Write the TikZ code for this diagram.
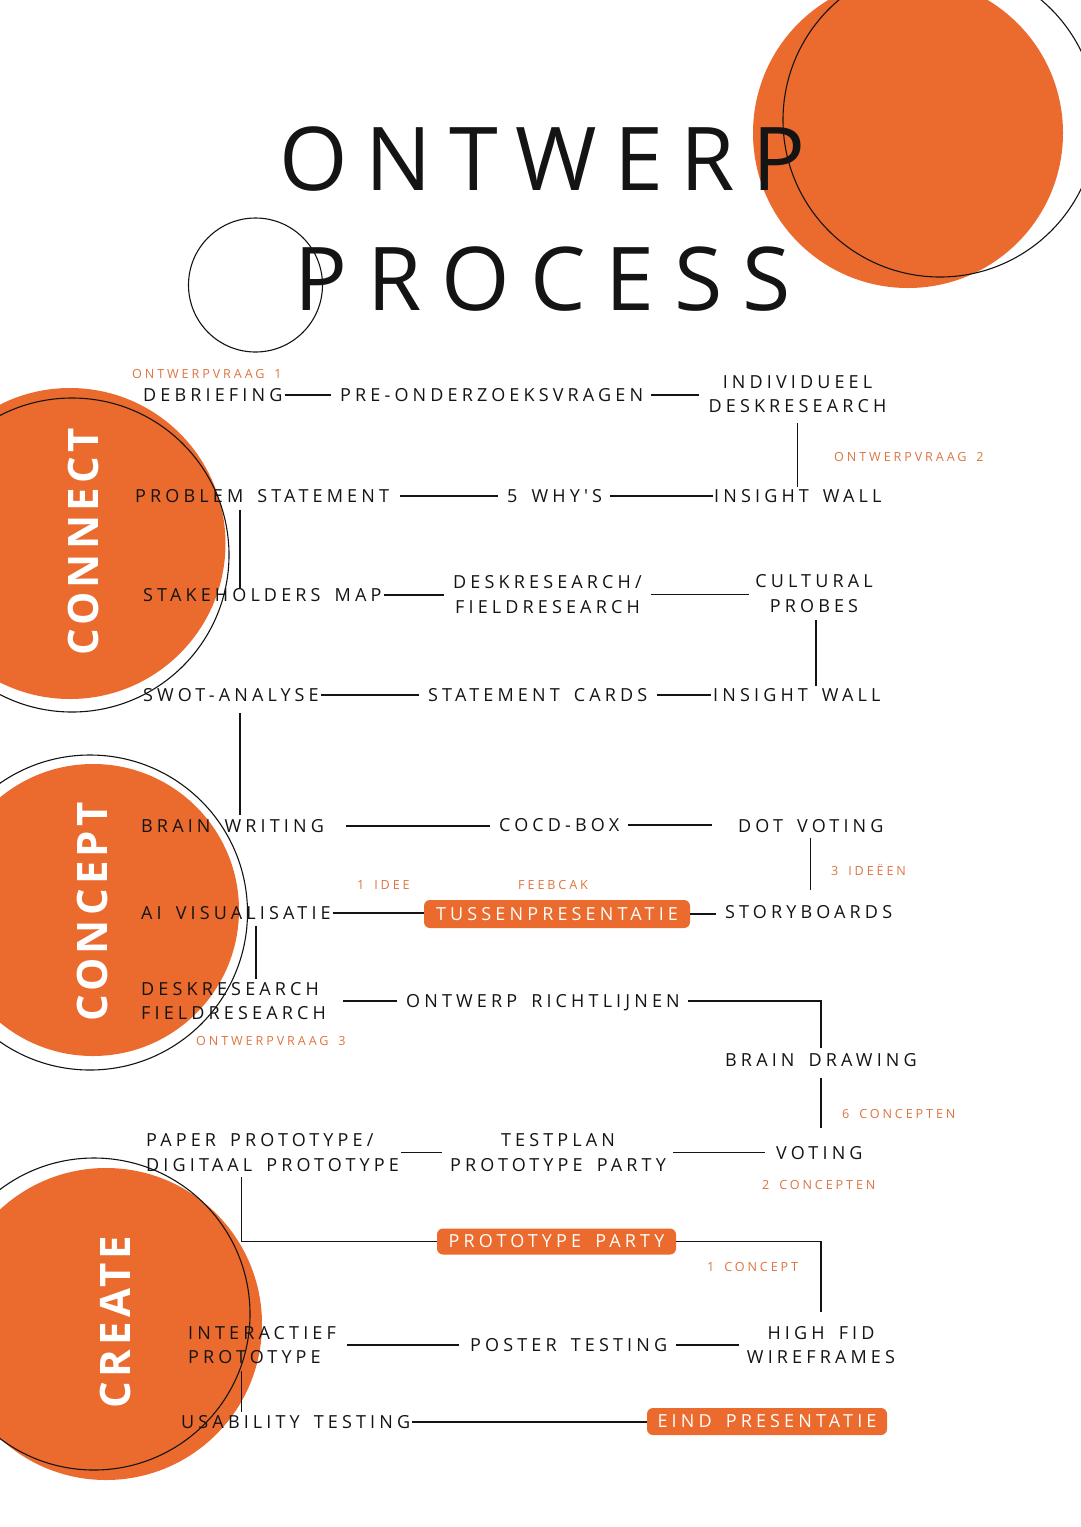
\documentclass[tikz,border=0pt]{standalone}
\usepackage{fontspec}
\setmainfont{Open Sans}
\newfontfamily\trackfont[LetterSpace=23,WordSpace=1.6]{Open Sans}
\newfontfamily\titlefont[LetterSpace=20]{Open Sans}
\newfontfamily\titlefontb[LetterSpace=22.6]{Open Sans}
\newfontfamily\phasefont[LetterSpace=10]{Open Sans}
\definecolor{flame}{RGB}{235,106,46}
\definecolor{flamenote}{RGB}{222,118,66}
\definecolor{ink}{RGB}{20,20,20}

\begin{document}
\begin{tikzpicture}[x=1pt,y=-1pt,
  lbl/.style={font=\trackfont\fontsize{18}{24.5}\selectfont,text=ink,inner sep=0pt,
    text height=12.9pt,text depth=0pt,anchor=west},
  pair/.style={lbl,text height=37.4pt},
  note/.style={font=\trackfont\fontsize{12.6}{15}\selectfont,text=flamenote,inner sep=0pt,
    text height=9pt,text depth=0pt,anchor=west},
  pill/.style={lbl,anchor=center,fill=flame,text=white,rounded corners=6pt,minimum height=27pt},
  phase/.style={font=\phasefont\bfseries\fontsize{42}{42}\selectfont,text=white,rotate=90,
    inner sep=0pt,text height=30pt,text depth=0pt},
  headline/.style={font=\titlefont\fontsize{88}{88}\selectfont,text=ink,inner sep=0pt,
    text height=63pt,text depth=0pt},
  link/.style={draw=ink,line width=1.2pt,shorten <=2pt,shorten >=9pt},
  ring/.style={draw=ink,line width=1.1pt}]
\useasboundingbox (0,0) rectangle (1080,1527);
\fill[white] (0,0) rectangle (1080,1527);

% circles
\fill[flame] (908,133) circle[radius=155pt];
\draw[ring] (940,120) circle[radius=157pt];
\draw[ring] (255.5,285) circle[radius=67pt];
\fill[flame] (70,543.5) circle[radius=155.5pt];
\draw[ring] (72,555) circle[radius=157pt];
\fill[flame] (93,910) circle[radius=146pt];
\draw[ring] (90,912.5) circle[radius=157.5pt];
\fill[flame] (106,1324) circle[radius=156pt];
\draw[ring] (94,1314) circle[radius=156pt];

% title and phases
\node[headline] (title1) at (542.5,158.5) {ONTWERP};
\node[headline,font=\titlefontb\fontsize{88}{88}\selectfont] (title2) at (543,279) {PROCESS};
\node[phase] (connect) at (83,542) {CONNECT};
\node[phase] (concept) at (92,912) {CONCEPT};
\node[phase] (create) at (115,1322) {CREATE};

% connect
\node[note] (vraag1) at (132,374) {ONTWERPVRAAG 1};
\node[lbl] (debrief) at (143,395) {DEBRIEFING};
\node[lbl] (pre) at (340,395) {PRE-ONDERZOEKSVRAGEN};
\node[pair,anchor=center,align=center] (indiv) at (797.5,394) {INDIVIDUEEL\\DESKRESEARCH};
\node[note] (vraag2) at (834,457) {ONTWERPVRAAG 2};
\node[lbl] (problem) at (135,496) {PROBLEM STATEMENT};
\node[lbl] (whys) at (507,496) {5 WHY{\char"0027}S};
\node[lbl] (insightA) at (714,496) {INSIGHT WALL};
\node[lbl] (stake) at (143,595) {STAKEHOLDERS MAP};
\node[pair,anchor=center,align=center] (deskA) at (547.5,594.5) {DESKRESEARCH/\\FIELDRESEARCH};
\node[pair,anchor=center,align=center] (probes) at (814,593.5) {CULTURAL\\PROBES};
\node[lbl] (swot) at (143,695) {SWOT-ANALYSE};
\node[lbl] (cards) at (428,695) {STATEMENT CARDS};
\node[lbl] (insightB) at (713,695) {INSIGHT WALL};

% concept
\node[lbl] (brainwr) at (141,826) {BRAIN WRITING};
\node[lbl] (cocd) at (499,825) {COCD-BOX};
\node[lbl] (dotvote) at (738,826) {DOT VOTING};
\node[note] (ideeen) at (831,871) {3 IDEËEN};
\node[note] (idee) at (357,885) {1 IDEE};
\node[note] (feedback) at (518,885) {FEEBCAK};
\node[lbl] (aivis) at (141,913) {AI VISUALISATIE};
\node[pill,minimum width=266pt,minimum height=28pt] (tussen) at (557,914) {TUSSENPRESENTATIE};
\node[lbl] (story) at (725,912) {STORYBOARDS};
\node[pair,align=left] (deskB) at (141,1001) {DESKRESEARCH\\FIELDRESEARCH};
\node[note] (vraag3) at (196,1041) {ONTWERPVRAAG 3};
\node[lbl] (richt) at (406,1001) {ONTWERP RICHTLIJNEN};
\node[lbl] (braindr) at (725,1060) {BRAIN DRAWING};
\node[note] (zes) at (842,1114) {6 CONCEPTEN};

% create
\node[pair,align=left] (paper) at (146,1152.5) {PAPER PROTOTYPE/\\DIGITAAL PROTOTYPE};
\node[pair,anchor=center,align=center] (testplan) at (558,1152.5) {TESTPLAN\\PROTOTYPE PARTY};
\node[lbl] (voting) at (776,1153) {VOTING};
\node[note] (twee) at (762,1185) {2 CONCEPTEN};
\node[pill,minimum width=239pt,minimum height=26pt] (party) at (556.5,1241.5) {PROTOTYPE PARTY};
\node[note] (een) at (707,1267) {1 CONCEPT};
\node[pair,align=left] (interact) at (188,1345) {INTERACTIEF\\PROTOTYPE};
\node[lbl] (poster) at (470,1345) {POSTER TESTING};
\node[pair,anchor=center,align=center] (highfid) at (821,1345) {HIGH FID\\WIREFRAMES};
\node[lbl] (usab) at (181,1422) {USABILITY TESTING};
\node[pill,minimum width=240pt] (eind) at (767,1421.5) {EIND PRESENTATIE};

% connectors
\coordinate (spineA) at (240,0);
\coordinate (spineB) at (256,0);
\coordinate (spineC) at (241.5,0);
\draw[link] (debrief.east) -- (debrief.east -| pre.west);
\draw[link,shorten <=8pt] (pre.east) -- (pre.east -| indiv.west);
\draw[link,shorten <=10pt,shorten >=2pt] (indiv.south) -- (indiv.south |- insightA.north);
\draw[link,shorten <=11pt] (problem.east) -- (problem.east -| whys.west);
\draw[link,shorten <=8pt,shorten >=1pt] (whys.east) -- (whys.east -| insightA.west);
\draw[link,shorten <=7pt,shorten >=0pt] (problem.south -| spineA) -- (stake.north -| spineA);
\draw[link] (stake.east) -- (stake.east -| deskA.west);
\draw[link,shorten <=9pt,shorten >=6pt] (deskA.east) -- (deskA.east -| probes.west);
\draw[link,shorten <=8pt,shorten >=2pt] ([xshift=2pt]probes.south) -- ([xshift=2pt]probes.south |- insightB.north);
\draw[link] (swot.east) -- (swot.east -| cards.west);
\draw[link,shorten <=9pt,shorten >=2pt] (cards.east) -- (cards.east -| insightB.west);
\draw[link,shorten <=11pt,shorten >=4pt] (swot.south -| spineA) -- (brainwr.north -| spineA);
\draw[link,shorten <=22pt] (brainwr.east) -- (brainwr.east -| cocd.west);
\draw[link,shorten <=9pt,shorten >=26pt] (cocd.east) -- (cocd.east -| dotvote.west);
\draw[link,shorten <=5pt,shorten >=15pt] (dotvote.south) -- (dotvote.south |- story.north);
\draw[link,shorten >=0pt] (aivis.east) -- (aivis.east -| tussen.west);
\draw[link,shorten <=0pt] (tussen.east) -- (tussen.east -| story.west);
\draw[link,shorten <=6pt,shorten >=3pt] (aivis.south -| spineB) -- (deskB.north -| spineB);
\draw[link,shorten <=17pt] (deskB.east) -- (deskB.east -| richt.west);
\draw[link,shorten <=8pt,shorten >=5pt] (richt.east) -| (braindr.north);
\draw[link,shorten <=11pt,shorten >=18pt] (braindr.south) -- (braindr.south |- voting.north);
\draw[link,shorten >=8pt] (paper.east) -- (paper.east -| testplan.west);
\draw[link,shorten <=7pt,shorten >=11pt] (testplan.east) -- (testplan.east -| voting.west);
\draw[link,shorten <=6pt,shorten >=0pt] (paper.south -| spineC) |- (party.west);
\draw[link,shorten <=0pt,shorten >=14pt] (party.east) -| (highfid.north);
\draw[link,shorten <=11pt,shorten >=11pt] (interact.east) -- (interact.east -| poster.west);
\draw[link,shorten <=9pt,shorten >=8pt] (poster.east) -- (poster.east -| highfid.west);
\draw[link,shorten <=7pt,shorten >=3pt] (interact.south -| spineC) -- (usab.north -| spineC);
\draw[link,shorten >=0pt] (usab.east) -- (usab.east -| eind.west);
\end{tikzpicture}
\end{document}
